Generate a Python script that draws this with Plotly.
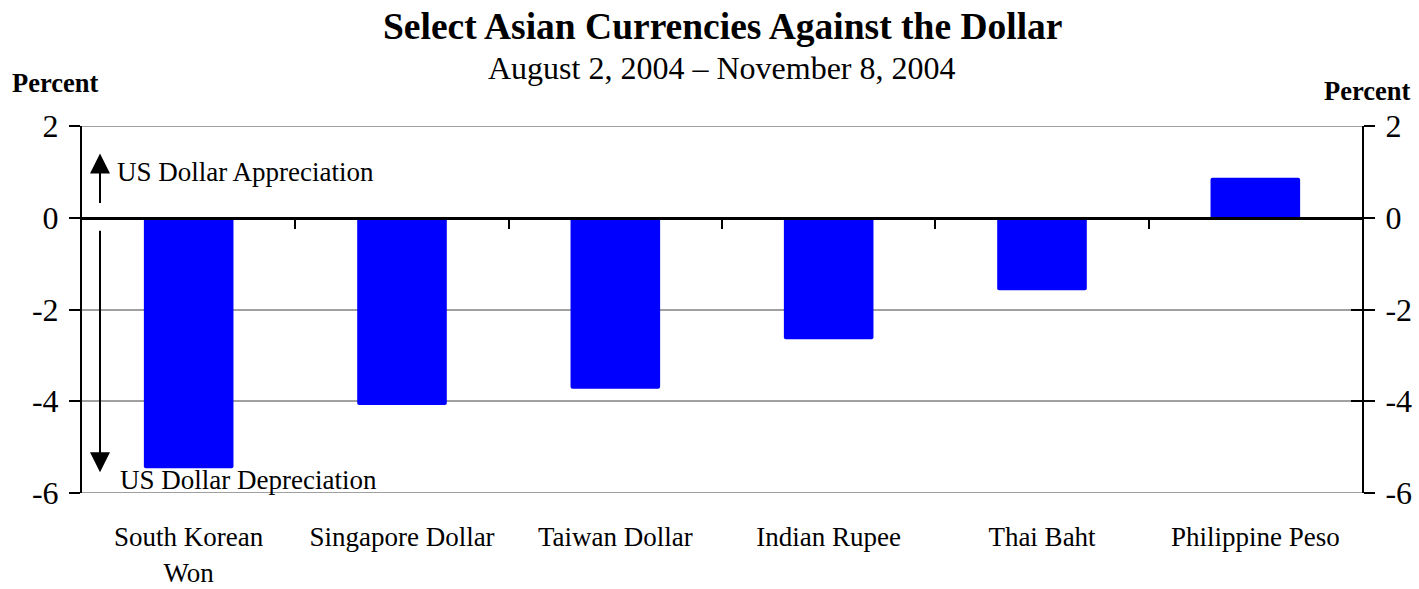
import plotly.graph_objects as go

# Change of each currency against the US dollar, Aug 2 - Nov 8, 2004 (percent)
currencies = ["South Korean<br>Won", "Singapore Dollar", "Taiwan Dollar",
              "Indian Rupee", "Thai Baht", "Philippine Peso"]
pct_change = [-5.46, -4.08, -3.73, -2.65, -1.58, 0.87]

y_ticks = [2, 0, -2, -4, -6]
y_range = [-6, 2]

FONT = "Liberation Serif, Times New Roman, serif"
BLUE = "#0000FF"
GRID = "#a0a0a0"

# plot-area geometry in pixels (used to place text outside the axes)
W, H = 1419, 589
M_L, M_R, M_T, M_B = 82, 57, 126, 96
PLOT_H = H - M_T - M_B


def paper_y(py):
    """Convert a pixel row (from top of page) to paper y."""
    return (H - M_B - py) / PLOT_H


def paper_x(px):
    return (px - M_L) / (W - M_L - M_R)


def font(size):
    return dict(family=FONT, size=size, color="black")


x_pos = list(range(len(currencies)))
x_range = [-0.5, len(currencies) - 0.5]
boundaries = [i + 0.5 for i in range(len(currencies) - 1)]

fig = go.Figure()
fig.add_trace(go.Bar(
    x=x_pos, y=pct_change, width=0.42,
    marker=dict(color=BLUE, line=dict(width=0), cornerradius=2),
    hoverinfo="skip", showlegend=False,
))

# arrow x position, expressed on the numeric category axis
arrow_x = x_range[0] + paper_x(100) * (x_range[1] - x_range[0])

annotations = [
    dict(text="<b>Select Asian Currencies Against the Dollar</b>",
         xref="paper", yref="paper", x=0.5, y=paper_y(27), xanchor="center",
         yanchor="middle", showarrow=False, font=font(37.5)),
    dict(text="August 2, 2004 – November 8, 2004",
         xref="paper", yref="paper", x=0.5, y=paper_y(68), xanchor="center",
         yanchor="middle", showarrow=False, font=font(32)),
    dict(text="<b>Percent</b>", xref="paper", yref="paper",
         x=paper_x(10), y=paper_y(83), xanchor="left", yanchor="middle",
         showarrow=False, font=font(26.5)),
    dict(text="<b>Percent</b>", xref="paper", yref="paper",
         x=paper_x(1412), y=paper_y(91), xanchor="right", yanchor="middle",
         showarrow=False, font=font(26.5)),
    dict(text="US Dollar Appreciation", xref="paper", yref="y",
         x=paper_x(115), y=1.0, xanchor="left", yanchor="middle",
         showarrow=False, font=font(27)),
    dict(text="US Dollar Depreciation", xref="paper", yref="y",
         x=paper_x(118), y=-5.71, xanchor="left", yanchor="middle",
         showarrow=False, font=font(27)),
    # appreciation / depreciation arrows
    dict(text="", xref="x", yref="y", axref="x", ayref="y",
         x=arrow_x, y=1.40, ax=arrow_x, ay=0.29, showarrow=True,
         arrowhead=2, arrowsize=2.0, arrowwidth=2, arrowcolor="black"),
    dict(text="", xref="x", yref="y", axref="x", ayref="y",
         x=arrow_x, y=-5.55, ax=arrow_x, ay=-0.25, showarrow=True,
         arrowhead=2, arrowsize=2.0, arrowwidth=2, arrowcolor="black"),
]

# gridlines at the two ends of the value range (Plotly hides edge gridlines)
edge_grid = [
    dict(type="line", xref="paper", yref="y", x0=0, x1=1, y0=v, y1=v,
         line=dict(color=GRID, width=2), layer="below")
    for v in (max(y_ticks), min(y_ticks))
]

fig.update_layout(
    width=W, height=H,
    margin=dict(l=M_L, r=M_R, t=M_T, b=M_B, autoexpand=False),
    paper_bgcolor="white", plot_bgcolor="white",
    font=font(26),
    annotations=annotations,
    shapes=edge_grid,
    # category labels along the bottom
    xaxis=dict(
        range=x_range, tickmode="array", tickvals=x_pos, ticktext=currencies,
        showline=False, showgrid=False, zeroline=False, automargin=False,
        ticks="outside", ticklen=20, tickcolor="rgba(0,0,0,0)",
        tickfont=font(27),
    ),
    # the zero line with boundary ticks between categories
    xaxis2=dict(
        overlaying="x", anchor="free", position=0.75, automargin=False,
        range=x_range, tickmode="array", tickvals=boundaries,
        showticklabels=False, showline=True, linecolor="black", linewidth=3,
        ticks="outside", ticklen=9, tickwidth=2, tickcolor="black",
        showgrid=False, zeroline=False,
    ),
    yaxis=dict(
        range=y_range, tickmode="array", tickvals=y_ticks,
        ticktext=[str(v) for v in y_ticks], automargin=False,
        showline=True, linecolor="black", linewidth=2,
        ticks="outside", ticklen=11, tickwidth=2, tickcolor="black",
        ticklabelstandoff=4,
        showgrid=True, gridcolor=GRID, gridwidth=2,
        zeroline=False, tickfont=font(32),
    ),
    yaxis2=dict(
        overlaying="y", side="right", anchor="x", automargin=False,
        range=y_range, tickmode="array", tickvals=y_ticks,
        ticktext=[str(v) for v in y_ticks],
        showline=True, linecolor="black", linewidth=2,
        ticks="outside", ticklen=11, tickwidth=2, tickcolor="black",
        ticklabelstandoff=4,
        showgrid=False, zeroline=False, tickfont=font(32),
    ),
    yaxis3=dict(
        overlaying="y", side="right", anchor="x", automargin=False,
        range=y_range, tickmode="array", tickvals=y_ticks,
        showticklabels=False, showline=False,
        ticks="inside", ticklen=11, tickwidth=2, tickcolor="black",
        showgrid=False, zeroline=False,
    ),
)

# invisible traces to activate the extra axes
fig.add_trace(go.Scatter(x=[None], y=[None], xaxis="x2", yaxis="y",
                         showlegend=False, hoverinfo="skip"))
fig.add_trace(go.Scatter(x=[None], y=[None], xaxis="x", yaxis="y2",
                         showlegend=False, hoverinfo="skip"))
fig.add_trace(go.Scatter(x=[None], y=[None], xaxis="x", yaxis="y3",
                         showlegend=False, hoverinfo="skip"))

fig.write_html("out.html")
